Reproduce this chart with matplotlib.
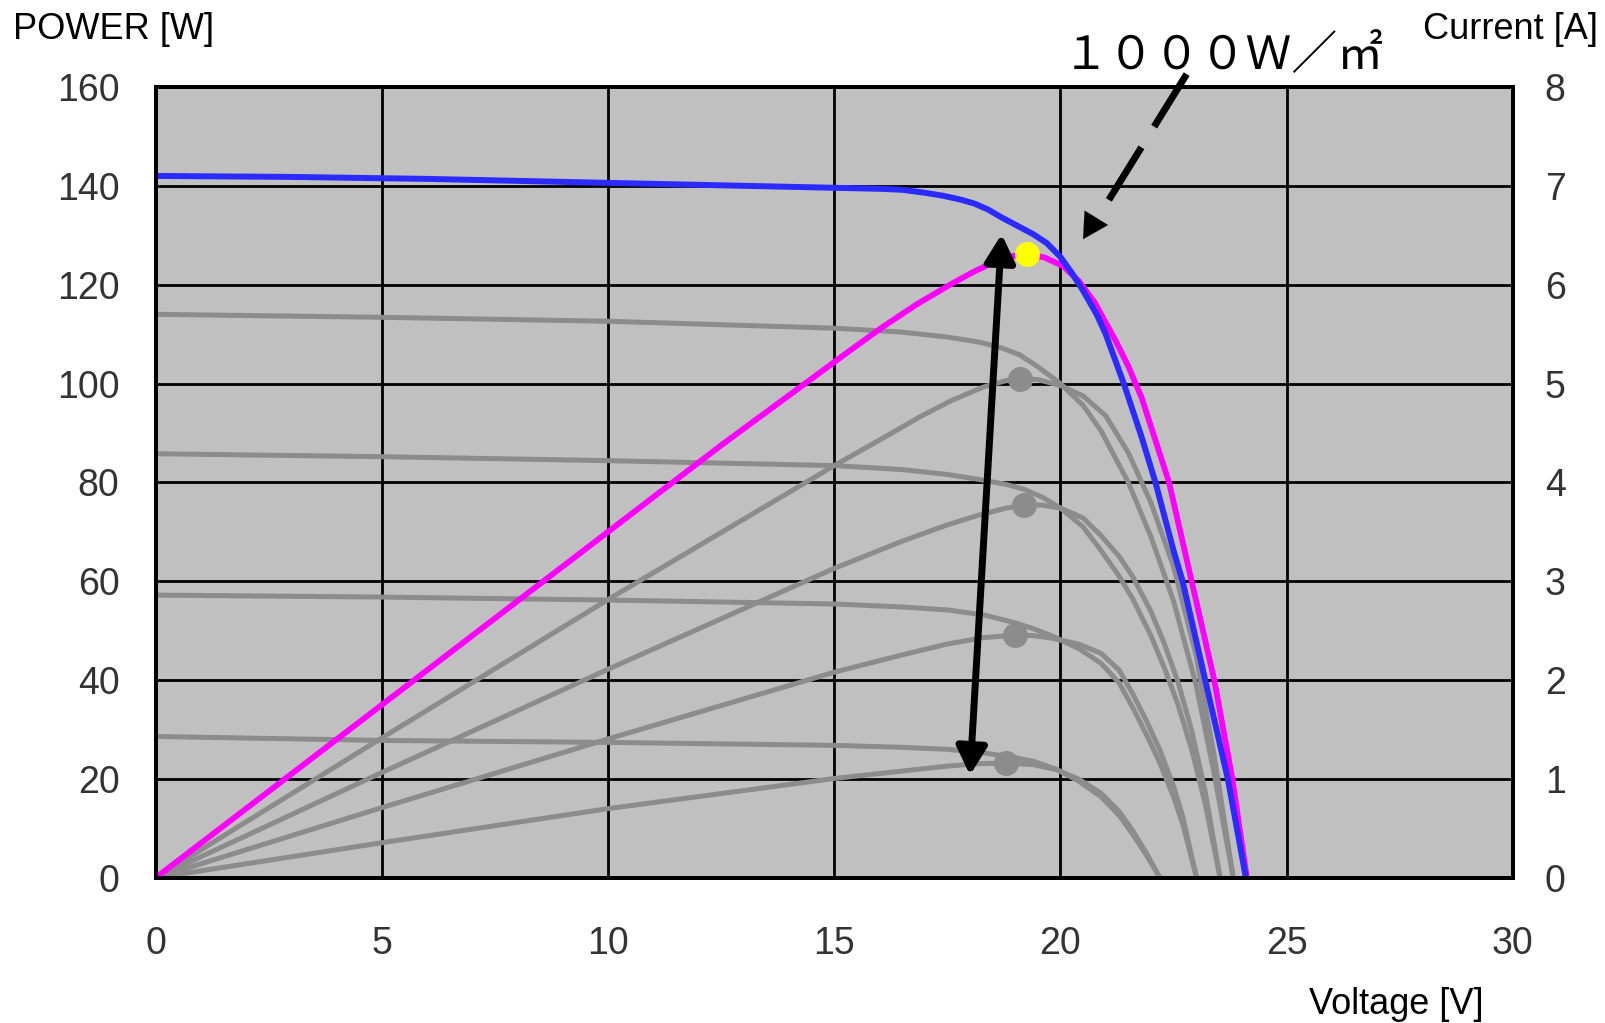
import matplotlib
matplotlib.use("Agg")
import matplotlib.pyplot as plt

# 1000 W/m2 curve: current (blue) and power (magenta)
volt_i1000 = [0, 3, 6, 9, 12, 15, 16.0, 16.5, 17.0, 17.4, 17.8, 18.1, 18.4, 18.7, 19.03, 19.4, 19.7, 20.0, 20.25,
              20.5, 20.8, 21.0, 21.4, 21.8, 22.1, 22.5, 22.7, 23.2, 23.7, 24.1]
amp_1000 = [7.10, 7.09, 7.07, 7.04, 7.01, 6.98, 6.97, 6.96, 6.93, 6.90, 6.86, 6.82, 6.76, 6.68, 6.60, 6.51, 6.42, 6.28, 6.12,
            5.94, 5.70, 5.50, 5.00, 4.45, 4.00, 3.31, 3.00, 2.00, 1.00, 0.0]
volt_p1000 = [0, 5, 10, 12.5, 15.35, 16.08, 16.82, 17.56, 18.1, 18.59, 18.95, 19.25, 19.65, 20.05, 20.4,
              20.75, 21.2, 21.5, 21.8, 22.1, 22.4, 22.9, 23.4, 23.8, 24.12]
watt_1000 = [0, 35, 70, 87.5, 106.7, 111.5, 116.0, 120.0, 122.7, 124.8, 125.8, 126.2, 125.5, 123.8, 120.8,
             116.5, 109, 103.5, 97, 88.5, 80, 60, 40, 20, 0]

# lower irradiance curves (grey)
volt_i800 = [0, 5, 10, 15, 16.5, 17.5, 18.2, 18.7, 19.1, 19.5, 20.0, 20.5, 20.9, 21.5, 22.0, 22.5, 23.0, 23.4, 23.82]
amp_800 = [5.70, 5.67, 5.63, 5.56, 5.52, 5.47, 5.42, 5.36, 5.29, 5.17, 5.00, 4.78, 4.52, 4.00, 3.45, 2.80, 1.95, 1.05, 0]
volt_p800 = [0, 5, 10, 15, 16.2, 16.9, 17.6, 18.3, 18.8, 19.1, 19.5, 20.0, 20.5, 21.0, 21.5, 22.0, 22.5, 23.0, 23.4, 23.82]
watt_800 = [0, 28.3, 56.3, 83.4, 89.6, 93.3, 96.6, 99.3, 100.6, 101, 100.8, 99.6, 97.5, 93.5, 86, 75.9, 63, 44.9, 24.6, 0]

volt_600 = [0, 5, 10, 15, 16.5, 17.5, 18.2, 18.8, 19.2, 19.6, 20.0, 20.5, 20.9, 21.3, 21.6, 22.0, 22.3, 22.6, 22.9, 23.2, 23.53]
amp_600 = [4.29, 4.26, 4.22, 4.17, 4.13, 4.08, 4.03, 3.98, 3.93, 3.85, 3.74, 3.55, 3.31, 3.05, 2.82, 2.45, 2.12, 1.75, 1.30, 0.75, 0]
watt_600 = [0, 21.3, 42.2, 62.6, 68.1, 71.4, 73.4, 74.8, 75.4, 75.4, 74.8, 72.8, 69.2, 65.0, 60.9, 53.9, 47.3, 39.6, 29.8, 17.4, 0]

volt_400 = [0, 5, 10, 15, 16.5, 17.5, 18.3, 19.0, 19.4, 19.8, 20.4, 20.9, 21.3, 21.6, 21.9, 22.2, 22.5, 22.7, 23.01]
amp_400 = [2.86, 2.84, 2.81, 2.77, 2.74, 2.71, 2.66, 2.58, 2.52, 2.45, 2.32, 2.17, 1.97, 1.72, 1.45, 1.16, 0.82, 0.55, 0]
watt_400 = [0, 14.2, 28.1, 41.6, 45.1, 47.3, 48.6, 49.1, 49.0, 48.5, 47.3, 45.4, 42.0, 37.2, 31.8, 25.8, 18.5, 12.5, 0]

volt_200 = [0, 5, 10, 15, 16.5, 17.5, 18.2, 18.8, 19.4, 19.9, 20.4, 20.9, 21.3, 21.6, 21.9, 22.2]
amp_200 = [1.43, 1.39, 1.37, 1.34, 1.32, 1.30, 1.27, 1.23, 1.18, 1.10, 0.98, 0.82, 0.63, 0.44, 0.23, 0]
watt_200 = [0, 7.1, 14.0, 20.1, 21.6, 22.6, 23.1, 23.2, 22.9, 21.9, 20.0, 17.1, 13.4, 9.5, 5.0, 0]

# maximum power points
peak_volt = [19.1, 19.2, 19.0, 18.8]
peak_watt = [101, 75.4, 49.1, 23.2]
mpp_volt = 19.25
mpp_watt = 126.2

x_ticks = [0, 5, 10, 15, 20, 25, 30]
p_ticks = [0, 20, 40, 60, 80, 100, 120, 140, 160]
i_ticks = [0, 1, 2, 3, 4, 5, 6, 7, 8]

GREY = '#8c8c8c'
tick_font = dict(fontsize=27, fontfamily='Liberation Sans', color='#333333')
label_font = dict(fontsize=26, family='Liberation Sans', color='black')

fig = plt.figure(figsize=(16.06, 10.23), dpi=100)
ax = fig.add_axes([0.0969, 0.1419, 0.8451, 0.7731])
ax2 = ax.twinx()

ax.set_xlim(0, 30)
ax.set_ylim(0, 160)
ax2.set_ylim(0, 8)
ax.set_autoscale_on(False)
ax.set_facecolor('#c0c0c0')

ax.set_xticks(x_ticks, labels=[str(t) for t in x_ticks], **tick_font)
ax.set_yticks(p_ticks, labels=[str(t) for t in p_ticks], **tick_font)
ax2.set_yticks(i_ticks, labels=[str(t) for t in i_ticks], **tick_font)
ax.tick_params(axis='y', length=0, pad=26)
ax.tick_params(axis='x', length=0, pad=35)
ax2.tick_params(axis='y', length=0, pad=23)
ax.grid(True, color='black', lw=2)
for a in (ax, ax2):
    for s in a.spines.values():
        s.set_linewidth(2.8)
        s.set_color('black')

itrans = ax2.transData  # current curves use the right-hand scale

# grey curves
for v, i in [(volt_i800, amp_800), (volt_600, amp_600), (volt_400, amp_400), (volt_200, amp_200)]:
    ax.plot(v, i, color=GREY, lw=3.6, transform=itrans, zorder=2, solid_capstyle='round')
for v, p in [(volt_p800, watt_800), (volt_600, watt_600), (volt_400, watt_400), (volt_200, watt_200)]:
    ax.plot(v, p, color=GREY, lw=3.6, zorder=2, solid_capstyle='round')

ax.plot(volt_p1000, watt_1000, color='#ff00ff', lw=4.2, zorder=3)
ax.plot(volt_i1000, amp_1000, color='#2b2bff', lw=4.3, transform=itrans, zorder=4)

ax.plot(peak_volt, peak_watt, 'o', color=GREY, ms=18, mec='none', zorder=5)
ax.plot([mpp_volt], [mpp_watt], 'o', color='#ffff00', ms=18, mec='none', zorder=6)

# double headed arrow through the peaks
ax.annotate('', xy=(18.7, 130.2), xytext=(18.0, 20.8),
            arrowprops=dict(arrowstyle='<|-|>,head_length=0.4,head_width=0.22', lw=5,
                            color='black', mutation_scale=42, shrinkA=0, shrinkB=0),
            zorder=7)

# dashed pointer from the label
ax.plot([22.79, 21.06], [162.6, 137.0], color='black', lw=5, dashes=(8.9, 3.5),
        solid_capstyle='butt', dash_capstyle='butt', clip_on=False, zorder=7)
ax.annotate('', xy=(20.5, 129.2), xytext=(20.79, 133.5),
            arrowprops=dict(arrowstyle='-|>,head_length=0.4,head_width=0.22', lw=0.1,
                            color='black', mutation_scale=45, shrinkA=0, shrinkB=0),
            zorder=7)

fig.text(0.7620, 0.946, '１０００Ｗ／㎡', family=['Noto Sans CJK JP', 'DejaVu Sans'],
         fontsize=33, ha='center', va='center')
fig.text(13 / 1606, 1 - 39 / 1023, 'POWER [W]', ha='left', va='baseline', **label_font)
fig.text(1598 / 1606, 1 - 39 / 1023, 'Current [A]', ha='right', va='baseline', **label_font)
fig.text(1396 / 1606, 1 - 1014 / 1023, 'Voltage [V]', ha='center', va='baseline', **label_font)

fig.savefig('out.png', dpi=100, facecolor='white')
